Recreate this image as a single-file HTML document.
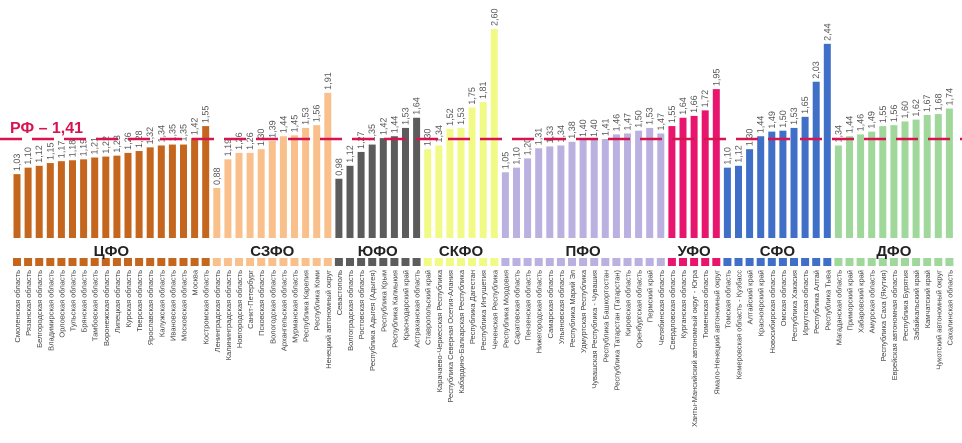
<!DOCTYPE html>
<html><head><meta charset="utf-8">
<style>
html,body{margin:0;padding:0;background:#fff;}
svg{display:block;font-family:"Liberation Sans","DejaVu Sans",sans-serif;}
</style></head>
<body>
<svg id="chart" width="962" height="443" viewBox="0 0 962 443" xmlns="http://www.w3.org/2000/svg"></svg>
<script>
const groupNames = ["ЦФО","СЗФО","ЮФО","СКФО","ПФО","УФО","СФО","ДФО"];
const groupColors = ["#c5661f","#f9c08c","#5c5c5c","#f2fa86","#bbb1e0","#e8156f","#3f6fc6","#a0d89c"];
const groupRegions = [
 ["Смоленская область","Рязанская область","Белгородская область","Владимирская область","Орловская область","Тульская область","Брянская область","Тамбовская область","Воронежская область","Липецкая область","Курская область","Тверская область","Ярославская область","Калужская область","Ивановская область","Московская область","Москва","Костромская область"],
 ["Ленинградская область","Калининградская область","Новгородская область","Санкт-Петербург","Псковская область","Вологодская область","Архангельская область","Мурманская область","Республика Карелия","Республика Коми","Ненецкий автономный округ"],
 ["Севастополь","Волгоградская область","Ростовская область","Республика Адыгея (Адыгея)","Республика Крым","Республика Калмыкия","Краснодарский край","Астраханская область"],
 ["Ставропольский край","Карачаево-Черкесская Республика","Республика Северная Осетия-Алания","Кабардино-Балкарская Республика","Республика Дагестан","Республика Ингушетия","Чеченская Республика"],
 ["Республика Мордовия","Саратовская область","Пензенская область","Нижегородская область","Самарская область","Ульяновская область","Республика Марий Эл","Удмуртская Республика","Чувашская Республика - Чувашия","Республика Башкортостан","Республика Татарстан (Татарстан)","Кировская область","Оренбургская область","Пермский край","Челябинская область"],
 ["Свердловская область","Курганская область","Ханты-Мансийский автономный округ - Югра","Тюменская область","Ямало-Ненецкий автономный округ"],
 ["Томская область","Кемеровская область - Кузбасс","Алтайский край","Красноярский край","Новосибирская область","Омская область","Республика Хакасия","Иркутская область","Республика Алтай","Республика Тыва"],
 ["Магаданская область","Приморский край","Хабаровский край","Амурская область","Республика Саха (Якутия)","Еврейская автономная область","Республика Бурятия","Забайкальский край","Камчатский край","Чукотский автономный округ","Сахалинская область"]
];
const groupValues = [
 [1.03,1.10,1.12,1.15,1.17,1.18,1.19,1.21,1.22,1.23,1.26,1.28,1.32,1.34,1.35,1.35,1.42,1.55],
 [0.88,1.19,1.26,1.26,1.30,1.39,1.44,1.45,1.53,1.56,1.91],
 [0.98,1.12,1.27,1.35,1.42,1.44,1.53,1.64],
 [1.30,1.34,1.52,1.53,1.75,1.81,2.60],
 [1.05,1.10,1.20,1.31,1.33,1.34,1.38,1.40,1.40,1.41,1.46,1.47,1.50,1.53,1.47],
 [1.55,1.64,1.66,1.72,1.95],
 [1.10,1.12,1.30,1.44,1.49,1.50,1.53,1.65,2.03,2.44],
 [1.34,1.44,1.46,1.49,1.55,1.56,1.60,1.62,1.67,1.68,1.74]
];
const rfValue = 1.41;
const rfLabel = "РФ – 1,41";

const NS="http://www.w3.org/2000/svg";
const svg=document.getElementById('chart');
const x0=17, pitch=11.1, bw=7, baseY=238;
const yScale=v=>269.3-92.4*v;
const xScale=i=>x0+i*pitch;
function mk(tag,attrs,parent){const e=document.createElementNS(NS,tag);for(const k in attrs)e.setAttribute(k,attrs[k]);(parent||svg).appendChild(e);return e;}
const fmt=v=>v.toFixed(2).replace('.',',');

let idx=0;
groupNames.forEach((g,gi)=>{
  const grp=mk('g',{});
  
  
  const start=idx;
  groupValues[gi].forEach((v,j)=>{
    const cx=xScale(idx);
    const top=yScale(v);
    const r=mk('rect',{x:cx-bw/2,y:top,width:bw,height:baseY-top,fill:groupColors[gi]},grp);
    
    
    const t=mk('text',{x:0,y:0,transform:`translate(${cx+3},${top-3}) rotate(-90)`,'font-size':'9',fill:'#555'},grp);
    t.textContent=fmt(v);
    
    
    const s=mk('rect',{x:cx-4,y:258,width:8,height:8,fill:groupColors[gi]},grp);
    
    
    const l=mk('text',{x:0,y:0,transform:`translate(${cx+3},270) rotate(-90)`,'font-size':'7.5',fill:'#444','text-anchor':'end'},grp);
    l.textContent=groupRegions[gi][j];
    
    
    idx++;
  });
  const mid=(xScale(start)+xScale(idx-1))/2;
  const gl=mk('text',{x:mid,y:256,'font-size':'15','font-weight':'bold','text-anchor':'middle',fill:'#222'},grp);
  gl.textContent=g;
  
  
});
const ry=yScale(rfValue);
const line=mk('line',{x1:0,x2:962,y1:ry,y2:ry,stroke:'#d81450','stroke-width':'2.5','stroke-dasharray':'22 10'});


const rl=mk('text',{x:10,y:ry-6,'font-size':'16','font-weight':'bold',fill:'#d81450'});
rl.textContent=rfLabel;


</script>
</body></html>
